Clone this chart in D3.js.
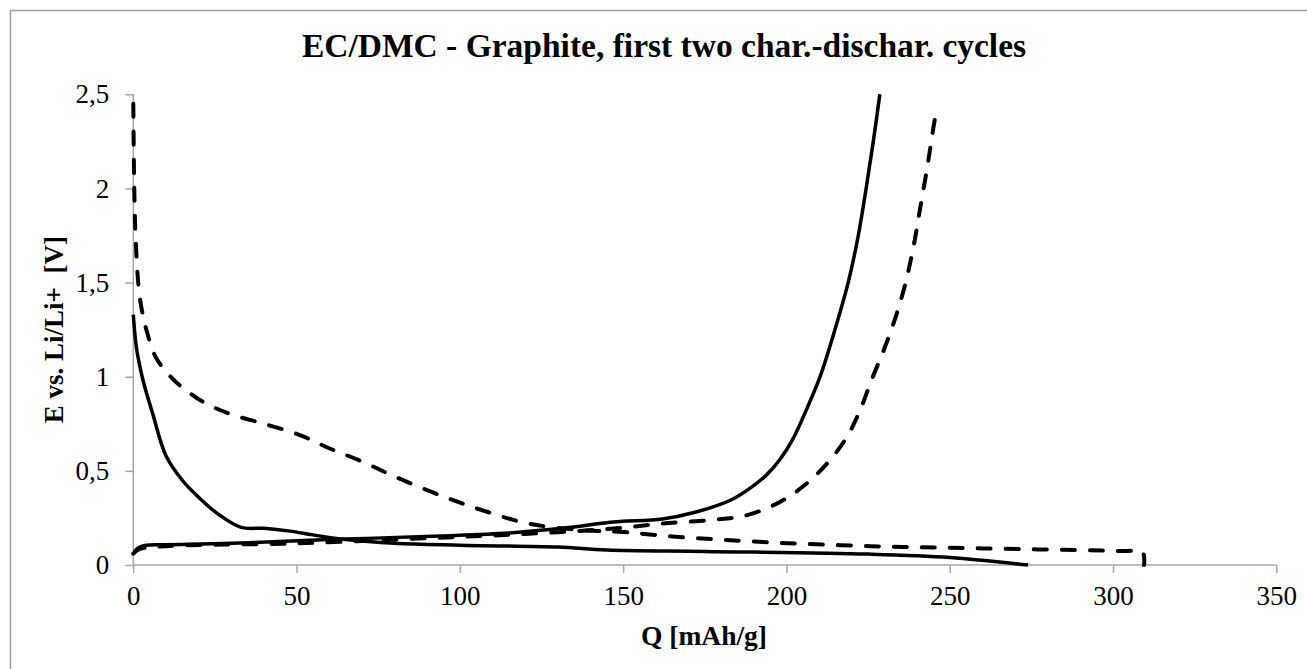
<!DOCTYPE html>
<html>
<head>
<meta charset="utf-8">
<script src="https://cdn.jsdelivr.net/npm/d3@7"></script>
<style>
  html, body { margin: 0; padding: 0; background: #fff; }
  svg { display: block; }
  svg text { font-family: "Liberation Serif", "Times New Roman", Tinos, "DejaVu Serif", serif; }
</style>
</head>
<body>
<svg id="chart" width="1307" height="669"></svg>
<script>
// ---- Data ----
const chartTitle = "EC/DMC - Graphite, first two char.-dischar. cycles";
const xTitle = "Q [mAh/g]";
const yTitle = "E vs. Li/Li+  [V]";
const xTicks = [0, 50, 100, 150, 200, 250, 300, 350];
const yTicks = [0, 0.5, 1, 1.5, 2, 2.5];
const yTickLabels = ["0", "0,5", "1", "1,5", "2", "2,5"];

// First cycle (dashed) - discharge (lithiation)
const cycle1DischargeQ = [0, 0.3, 0.8, 2, 4, 7, 12, 16, 22, 30, 40, 51, 60, 70, 80, 94, 107, 121, 137, 150, 167, 193, 226, 260, 303, 309, 309.5];
const cycle1DischargeE = [2.45, 2.0, 1.7, 1.42, 1.25, 1.10, 0.99, 0.93, 0.86, 0.80, 0.75, 0.69, 0.62, 0.55, 0.47, 0.37, 0.29, 0.22, 0.186, 0.175, 0.149, 0.122, 0.10, 0.088, 0.074, 0.07, 0.0];
// First cycle (dashed) - charge (delithiation)
const cycle1ChargeQ = [0, 2, 10, 50, 91, 120, 149, 162, 177.5, 188, 198, 206, 213, 218.5, 222.5, 226, 230, 233.5, 236.5, 239, 241, 243, 244.8, 246];
const cycle1ChargeE = [0.06, 0.085, 0.1, 0.115, 0.143, 0.165, 0.196, 0.22, 0.24, 0.265, 0.335, 0.43, 0.55, 0.68, 0.82, 0.98, 1.15, 1.32, 1.5, 1.7, 1.9, 2.1, 2.3, 2.43];
// Second cycle (solid) - discharge
const cycle2DischargeQ = [0, 1, 3, 6, 10, 15, 20, 26, 33, 40, 48, 55, 65, 80, 100, 130, 145, 175, 225, 250, 274];
const cycle2DischargeE = [1.33, 1.15, 0.98, 0.80, 0.58, 0.45, 0.36, 0.27, 0.20, 0.195, 0.18, 0.16, 0.135, 0.115, 0.105, 0.095, 0.08, 0.072, 0.058, 0.04, 0.0];
// Second cycle (solid) - charge
const cycle2ChargeQ = [0, 1, 4, 10, 30, 60, 94, 115, 132, 147, 162, 172, 183, 189, 194, 198, 202, 206, 210.3, 214.5, 218.9, 222, 224.4, 226.6, 228.6];
const cycle2ChargeE = [0.055, 0.085, 0.105, 0.108, 0.115, 0.135, 0.154, 0.17, 0.196, 0.228, 0.244, 0.28, 0.345, 0.41, 0.48, 0.56, 0.67, 0.82, 1.0, 1.23, 1.5, 1.75, 2.0, 2.25, 2.5];

// ---- Layout ----
const svg = d3.select("#chart");
const plot = { left: 133.3, right: 1276.3, top: 94.3, bottom: 565 };
const axisColor = "#a6a6a6";

// outer frame (only top/left visible in the reference)
svg.append("rect")
  .attr("x", 10.5).attr("y", 10.5)
  .attr("width", 1400).attr("height", 800)
  .attr("fill", "none").attr("stroke", "#a0a0a0").attr("stroke-width", 1.5);

const x = d3.scaleLinear().domain([0, 350]).range([plot.left, plot.right]);
const y = d3.scaleLinear().domain([0, 2.5]).range([plot.bottom, plot.top]);

// axes
const xAxis = d3.axisBottom(x).tickValues(xTicks).tickSize(8).tickPadding(13).tickFormat(d3.format("d"));
const yAxis = d3.axisLeft(y).tickValues(yTicks).tickSize(8).tickPadding(16).tickFormat((d, i) => yTickLabels[i]);

const gx = svg.append("g").attr("transform", `translate(0,${plot.bottom})`).call(xAxis);
const gy = svg.append("g").attr("transform", `translate(${plot.left},0)`).call(yAxis);
[gx, gy].forEach(g => {
  g.attr("font-family", null).attr("font-size", null);
  g.select(".domain").attr("stroke", axisColor).attr("stroke-width", 1.5);
  g.selectAll(".tick line").attr("stroke", axisColor).attr("stroke-width", 1.5);
  g.selectAll(".tick text").attr("fill", "#000").style("font-size", "27px");
});
gx.select(".domain").attr("d", `M${plot.left},0H${plot.right}`);
gy.select(".domain").attr("d", `M0,${plot.bottom}V${plot.top}`);

// series
const line = d3.line().x(d => x(d[0])).y(d => y(d[1])).curve(d3.curveCatmullRom.alpha(0.5));
const zip = (a, b) => a.map((v, i) => [v, b[i]]);

const series = [
  { q: cycle1ChargeQ, e: cycle1ChargeE, dash: "13,15" },
  { q: cycle1DischargeQ, e: cycle1DischargeE, dash: "13,15" },
  { q: cycle2DischargeQ, e: cycle2DischargeE, dash: null },
  { q: cycle2ChargeQ, e: cycle2ChargeE, dash: null }
];
series.forEach(s => {
  svg.append("path")
    .datum(zip(s.q, s.e))
    .attr("d", line)
    .attr("fill", "none")
    .attr("stroke", "#000")
    .attr("stroke-width", s.dash ? 4 : 3.5)
    .attr("stroke-linecap", s.dash ? "round" : "butt")
    .attr("stroke-linejoin", "round")
    .attr("stroke-dasharray", s.dash);
});

// titles
svg.append("text")
  .attr("x", 664).attr("y", 57)
  .attr("text-anchor", "middle")
  .style("font-weight", "bold").style("font-size", "33.5px")
  .text(chartTitle);

svg.append("text")
  .attr("x", 704).attr("y", 645)
  .attr("text-anchor", "middle")
  .style("font-weight", "bold").style("font-size", "27.5px")
  .text(xTitle);

svg.append("text")
  .attr("transform", `translate(63,${(plot.top + plot.bottom) / 2}) rotate(-90)`)
  .attr("text-anchor", "middle")
  .style("font-weight", "bold").style("font-size", "27px")
  .style("white-space", "pre")
  .text(yTitle);
</script>
</body>
</html>
